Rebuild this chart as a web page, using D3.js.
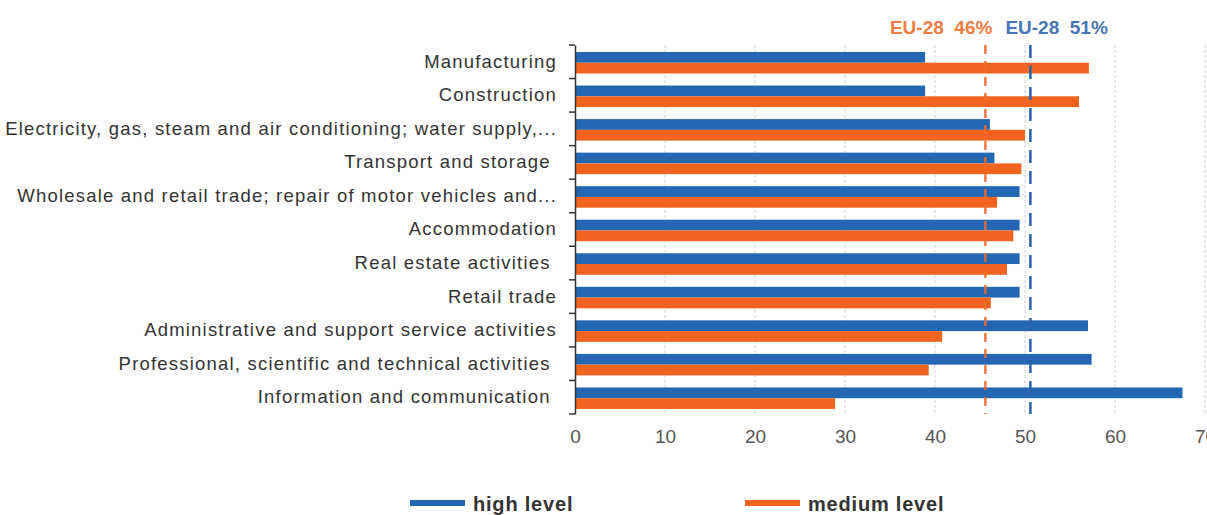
<!DOCTYPE html>
<html>
<head>
<meta charset="utf-8">
<script src="https://cdn.jsdelivr.net/npm/d3@7"></script>
<style>
  html, body { margin: 0; padding: 0; background: #fff; }
  svg { display: block; }
  text { font-family: "Liberation Sans", Arial, sans-serif; }
</style>
</head>
<body>
<svg id="chart" width="1207" height="515"></svg>
<script>
// ---- data ----
const categories = [
  "Manufacturing",
  "Construction",
  "Electricity, gas, steam and air conditioning; water supply,...",
  "Transport and storage ",
  "Wholesale and retail trade; repair of motor vehicles and...",
  "Accommodation",
  "Real estate activities ",
  "Retail trade",
  "Administrative and support service activities",
  "Professional, scientific and technical activities ",
  "Information and communication "
];
const highLevel   = [38.9, 38.9, 46.1, 46.6, 49.4, 49.4, 49.4, 49.4, 57.0, 57.4, 67.5];
const mediumLevel = [57.1, 56.0, 50.0, 49.6, 46.9, 48.7, 48.0, 46.2, 40.8, 39.3, 28.9];
const seriesNames = ["high level", "medium level"];
const xTicks = [0, 10, 20, 30, 40, 50, 60, 70];
const euMedium = 45.6, euHigh = 50.6;
const euMediumLabel = "EU-28  46%", euHighLabel = "EU-28  51%";

const colors = { "high level": "#2366b1", "medium level": "#f0641f" };

// ---- layout ----
const svg = d3.select("#chart");
const x = d3.scaleLinear().domain([0, 70]).range([575, 1205]);
const y = d3.scaleBand().domain(categories).range([45, 414]);
const inner = d3.scaleBand().domain(seriesNames).range([7, 28.5]);

// gridlines
svg.append("g").selectAll("line")
  .data(xTicks.filter(d => d > 0))
  .join("line")
  .attr("x1", d => x(d)).attr("x2", d => x(d))
  .attr("y1", 45).attr("y2", 414)
  .attr("stroke", "#cfd3d8").attr("stroke-width", 1)
  .attr("stroke-dasharray", "3,2");

// bars
const rows = categories.map((c, i) => ({ c, vals: [
  { s: "high level", v: highLevel[i] },
  { s: "medium level", v: mediumLevel[i] }
]}));
const g = svg.append("g").selectAll("g").data(rows).join("g")
  .attr("transform", d => `translate(0,${y(d.c)})`);
g.selectAll("rect").data(d => d.vals).join("rect")
  .attr("x", x(0) + 1)
  .attr("y", d => inner(d.s))
  .attr("width", d => x(d.v) - x(0) - 1)
  .attr("height", inner.bandwidth())
  .attr("fill", d => colors[d.s]);

// EU reference lines
svg.append("line")
  .attr("x1", x(euMedium)).attr("x2", x(euMedium))
  .attr("y1", 45).attr("y2", 414)
  .attr("stroke", "#f06a2c").attr("stroke-width", 2.5)
  .attr("stroke-dasharray", "9,7").attr("opacity", 0.9);
svg.append("line")
  .attr("x1", x(euHigh)).attr("x2", x(euHigh))
  .attr("y1", 45).attr("y2", 414)
  .attr("stroke", "#2a62a8").attr("stroke-width", 2.5)
  .attr("stroke-dasharray", "13,8");

svg.append("text")
  .attr("x", x(euMedium) + 7).attr("y", 34)
  .attr("text-anchor", "end")
  .attr("font-size", 19).attr("font-weight", "bold")
  .attr("fill", "#ef7d43")
  .attr("font-family", "'Liberation Sans Narrow', 'Liberation Sans', sans-serif")
  .style("white-space", "pre")
  .text(euMediumLabel);
svg.append("text")
  .attr("x", x(euHigh) - 25).attr("y", 34)
  .attr("text-anchor", "start")
  .attr("font-size", 19).attr("font-weight", "bold")
  .attr("fill", "#4676b5")
  .attr("font-family", "'Liberation Sans Narrow', 'Liberation Sans', sans-serif")
  .style("white-space", "pre")
  .text(euHighLabel);

// y axis
const yAxis = d3.axisLeft(y).tickSize(0).tickPadding(18);
const ya = svg.append("g").attr("transform", `translate(${x(0)},0)`).call(yAxis);
ya.select(".domain").attr("stroke", "#333").attr("stroke-width", 1.5);
ya.selectAll("text").attr("font-size", 18.5).attr("fill", "#333")
  .attr("letter-spacing", "1.2px")
  .style("white-space", "pre");
// boundary ticks
const bounds = categories.map(c => y(c)).concat([y.range()[1]]);
ya.append("g").selectAll("line").data(bounds).join("line")
  .attr("x1", -6).attr("x2", 0)
  .attr("y1", d => d).attr("y2", d => d)
  .attr("stroke", "#333").attr("stroke-width", 1.5);

// x axis (labels only)
const xAxis = d3.axisBottom(x).tickValues(xTicks).tickSize(0).tickPadding(16);
const xa = svg.append("g").attr("transform", `translate(0,414)`).call(xAxis);
xa.select(".domain").remove();
xa.selectAll("text").attr("font-size", 19).attr("fill", "#555");

// legend
const legend = svg.append("g");
const legendPos = [410, 745];
seriesNames.forEach((s, i) => {
  legend.append("rect")
    .attr("x", legendPos[i]).attr("y", 500)
    .attr("width", 55).attr("height", 6)
    .attr("fill", colors[s]);
  legend.append("text")
    .attr("x", legendPos[i] + 63).attr("y", 511)
    .attr("font-size", 20).attr("font-weight", "bold").attr("fill", "#333")
    .attr("letter-spacing", "0.8px")
    .text(s);
});
</script>
</body>
</html>
